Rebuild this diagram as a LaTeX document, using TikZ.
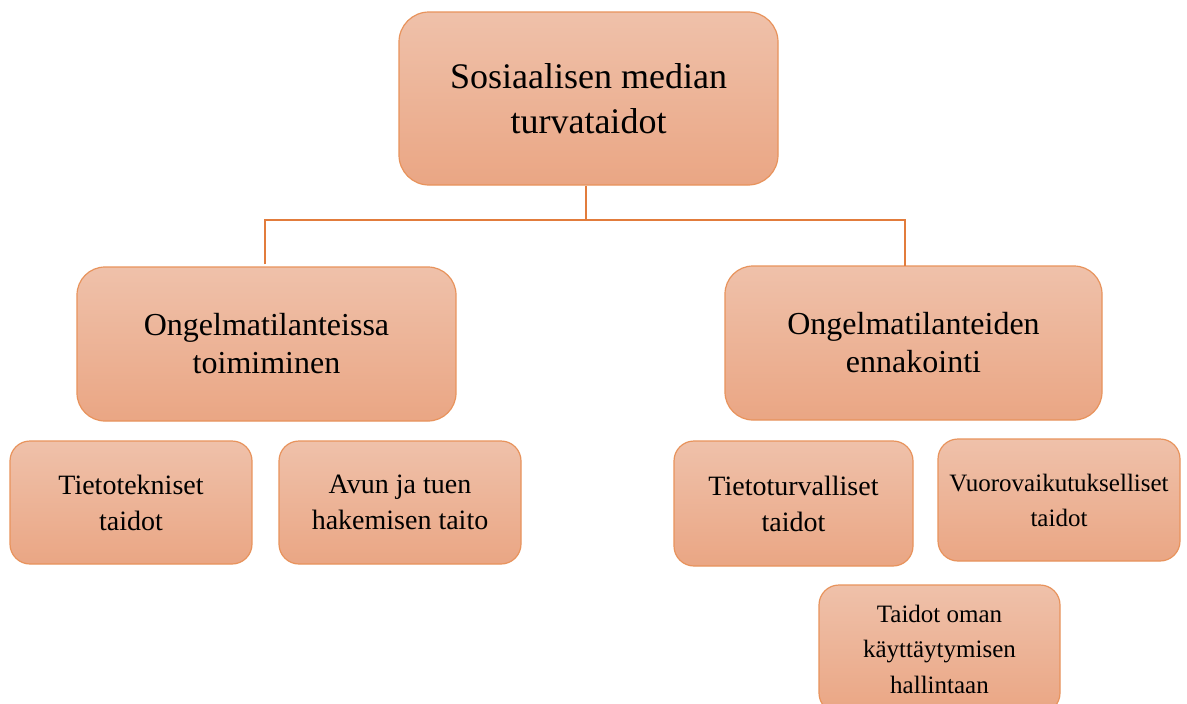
\documentclass[tikz,border=0pt]{standalone}
\usepackage{fontspec}
\setmainfont{Liberation Serif}
\definecolor{ftop}{HTML}{EFC1AA}
\definecolor{fbot}{HTML}{EAA684}
\definecolor{bord}{HTML}{E8935C}
\definecolor{conn}{HTML}{E27C3C}
\begin{document}
\begin{tikzpicture}[x=1pt,y=-1pt,
  box/.style={draw=bord, line width=1.2pt, top color=ftop, bottom color=fbot,
    align=center, inner sep=0pt, text=black},
  big/.style={box, rounded corners=30pt, font=\fontsize{36}{45}\selectfont},
  mid/.style={box, rounded corners=28pt, font=\fontsize{32}{38}\selectfont},
  small/.style={box, rounded corners=20pt, font=\fontsize{28}{36}\selectfont},
  tiny/.style={box, rounded corners=20pt, font=\fontsize{25}{35}\selectfont},
  link/.style={draw=conn, line width=1.8pt}]
\useasboundingbox (0,0) rectangle (1187,704);
\clip (0,0) rectangle (1187,704);
\fill[white] (0,0) rectangle (1187,704);
\node[big, minimum width=379pt, minimum height=173pt] (top) at (588.5,98.5)
  {Sosiaalisen median\\turvataidot};
\node[mid, minimum width=379pt, minimum height=154pt] (L) at (266.5,344)
  {Ongelmatilanteissa\\toimiminen};
\node[mid, minimum width=377pt, minimum height=154pt] (R) at (913.5,343)
  {Ongelmatilanteiden\\ennakointi};
\node[small, minimum width=242pt, minimum height=123pt] (A) at (131,502.5)
  {Tietotekniset\\taidot};
\node[small, minimum width=242pt, minimum height=123pt] (B) at (400,502.5)
  {Avun ja tuen\\hakemisen taito};
\node[small, minimum width=239pt, minimum height=125pt] (C) at (793.5,503.5)
  {Tietoturvalliset\\taidot};
\node[tiny, minimum width=242pt, minimum height=122pt] (D) at (1059,500)
  {Vuorovaikutukselliset\\taidot};
\node[tiny, minimum width=241pt, minimum height=128pt, font=\fontsize{25}{35.5}\selectfont] (E) at (939.5,649)
  {Taidot oman\\käyttäytymisen\\hallintaan};
\coordinate (j) at (586,220);
\draw[link] (top.south -| j) -- (j);
\draw[link] ([xshift=-1.5pt]L.north) ++(0,-2) |- (j) -| ([xshift=-8.5pt,yshift=-1pt]R.north);
\end{tikzpicture}
\end{document}
